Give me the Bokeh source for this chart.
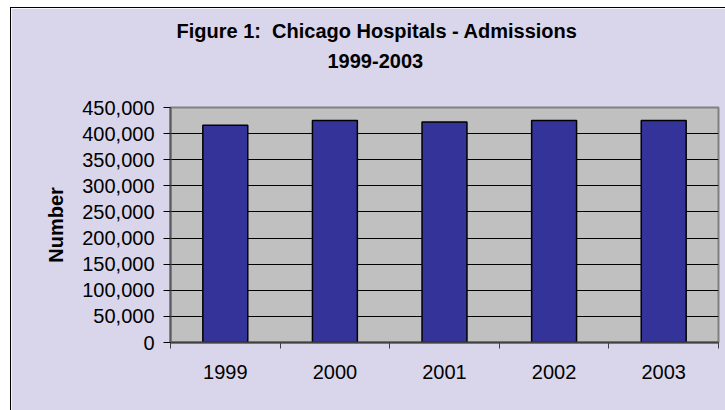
from bokeh.plotting import figure
from bokeh.models import (ColumnDataSource, FixedTicker, NumeralTickFormatter,
                          Range1d, Title, Spacer)
from bokeh.layouts import row, column
from bokeh.embed import file_html
from bokeh.resources import INLINE

# ---- data ----
years = ["1999", "2000", "2001", "2002", "2003"]
admissions = [416000, 425000, 422000, 425000, 425000]
y_ticks = [0, 50000, 100000, 150000, 200000, 250000, 300000, 350000, 400000, 450000]
title_line1 = "Figure 1:\u00a0 Chicago Hospitals - Admissions"
title_line2 = "1999-2003"
y_label = "Number"

FONT = "Liberation Sans"
LAVENDER = "#D9D6EC"

x_pos = [i + 0.5 for i in range(len(years))]
x_edges = list(range(len(years) + 1))
src = ColumnDataSource(dict(x=x_pos, top=admissions, year=years))

p = figure(width=714, height=402, output_backend="svg", toolbar_location=None,
           x_range=Range1d(0, len(years)), y_range=Range1d(0, y_ticks[-1]),
           min_border_left=159, min_border_right=7, min_border_top=99,
           min_border_bottom=68)
p.background_fill_color = "#C0C0C0"
p.border_fill_color = LAVENDER
p.outline_line_color = "#808080"
p.outline_line_width = 2

p.vbar(x="x", top="top", bottom=0, width=0.41, source=src,
       fill_color="#333399", line_color="black", line_width=1.5)

# grid
p.xgrid.visible = False
p.ygrid.ticker = FixedTicker(ticks=y_ticks)
p.ygrid.grid_line_color = "black"
p.ygrid.grid_line_width = 1

# y axis
ya = p.yaxis[0]
ya.ticker = FixedTicker(ticks=y_ticks)
ya.formatter = NumeralTickFormatter(format="0,0")
ya.major_tick_out = 7
ya.major_tick_in = 0
ya.minor_tick_out = 0
ya.minor_tick_in = 0
ya.major_tick_line_color = "black"
ya.axis_line_color = "#5A5A5A"
ya.axis_line_width = 2
ya.major_label_text_font = FONT
ya.major_label_text_font_size = "20px"
ya.major_label_text_color = "black"
ya.major_label_standoff = 9
ya.axis_label = y_label
ya.axis_label_text_font = FONT
ya.axis_label_text_font_size = "20px"
ya.axis_label_text_font_style = "bold"
ya.axis_label_text_color = "black"
ya.axis_label_standoff = 12

# x axis
xa = p.xaxis[0]
xa.ticker = FixedTicker(ticks=x_pos, minor_ticks=x_edges)
xa.major_label_overrides = {x: y for x, y in zip(x_pos, years)}
xa.major_tick_out = 0
xa.major_tick_in = 0
xa.major_tick_line_color = None
xa.minor_tick_out = 6
xa.minor_tick_in = 0
xa.minor_tick_line_color = "#404040"
xa.minor_tick_line_width = 1
xa.axis_line_color = "#404040"
xa.axis_line_width = 2
xa.major_label_text_font = FONT
xa.major_label_text_font_size = "20px"
xa.major_label_text_color = "black"
xa.major_label_standoff = 16

# titles (stacked outward from the frame: spacer, line 2, line 1)
p.add_layout(Title(text=" ", text_font=FONT, text_font_size="21px"), "above")
p.add_layout(Title(text=title_line2, align="left", offset=157, text_font=FONT,
                   text_font_size="20px", text_font_style="bold",
                   text_color="black"), "above")
p.add_layout(Title(text=title_line1, align="left", offset=6, text_font=FONT,
                   text_font_size="20px", text_font_style="bold",
                   text_color="black"), "above")

# white page margin and the black chart-area border (left and top)
black = {"background-color": "black"}
layout = row(
    Spacer(width=10, height=410),
    column(
        Spacer(width=715, height=7),
        Spacer(width=715, height=1, styles=black),
        row(Spacer(width=1, height=402, styles=black), p),
    ),
)

open("out.html", "w").write(file_html(layout, INLINE))
